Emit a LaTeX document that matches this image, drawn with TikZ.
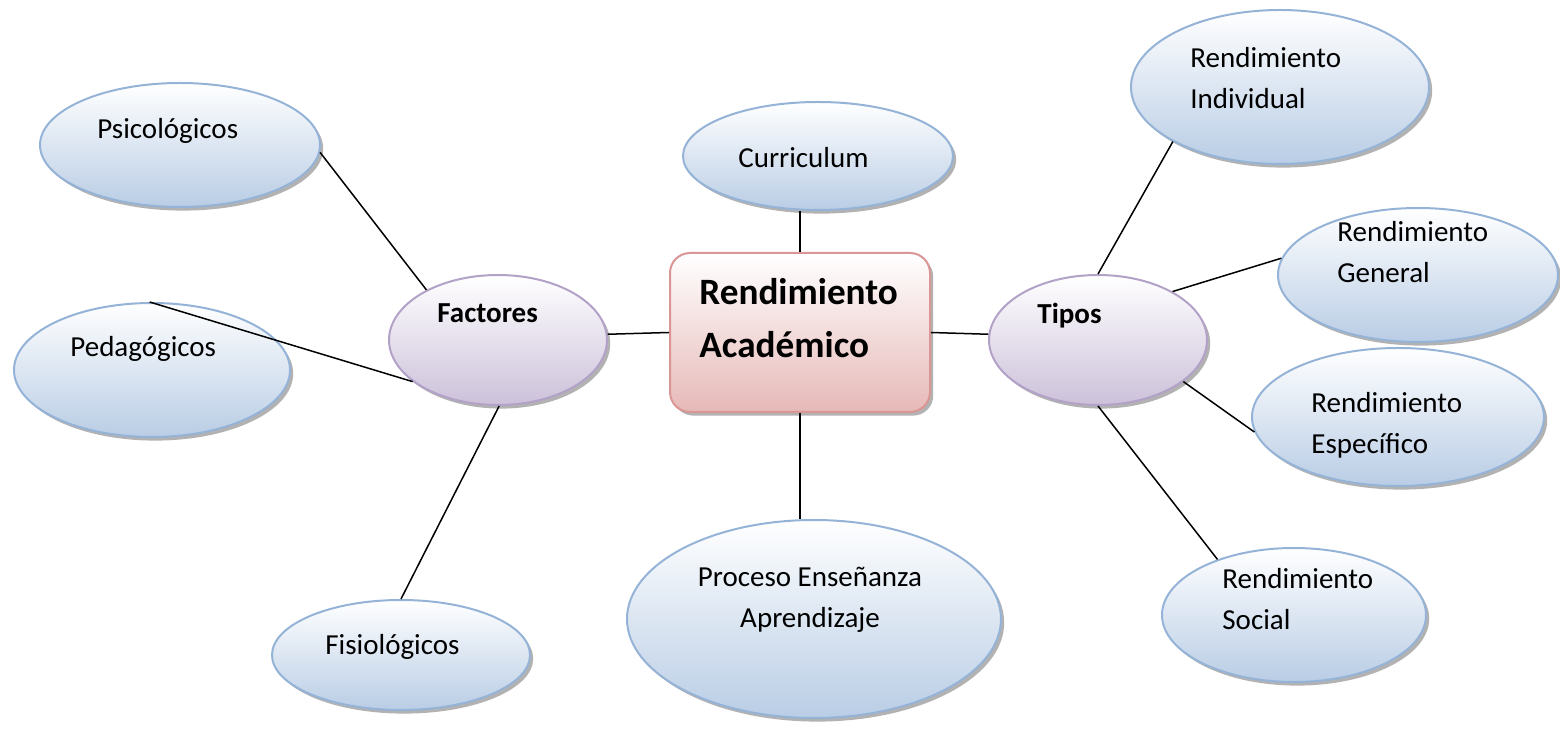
\documentclass[tikz,border=0pt]{standalone}
\usepackage{fontspec}
\setmainfont{Carlito}
\usetikzlibrary{shapes.geometric,shadows}
\definecolor{bluebd}{HTML}{95B3D7}
\definecolor{bluefill}{HTML}{B9CDE5}
\definecolor{purbd}{HTML}{B3A2C7}
\definecolor{purfill}{HTML}{CCC1DA}
\definecolor{pinkbd}{HTML}{D99694}
\definecolor{pinkfill}{HTML}{E6B9B8}
\tikzset{
  shad/.style={drop shadow={shadow xshift=1.6pt, shadow yshift=-1.8pt, fill=black!55, opacity=0.55}},
  blueell/.style={ellipse, inner sep=0pt, draw=bluebd, line width=1pt, top color=white, bottom color=bluefill, shad},
  purell/.style={ellipse, inner sep=0pt, draw=purbd, line width=1pt, top color=white, bottom color=purfill, shad},
  centerbox/.style={rectangle, rounded corners=10pt, inner sep=0pt, draw=pinkbd, line width=1pt, top color=white, bottom color=pinkfill, shad},
  txt/.style={anchor=base west, inner sep=0pt, align=left, font=\fontsize{14.5}{20.5}\selectfont},
  btxt/.style={anchor=base west, inner sep=0pt, align=left, font=\bfseries\fontsize{14.5}{20.5}\selectfont},
  bigtxt/.style={anchor=base west, inner sep=0pt, align=left, font=\bfseries\fontsize{18.6}{26.5}\selectfont},
  conn/.style={draw=black, line width=0.75pt}
}
\begin{document}
\begin{tikzpicture}[x=0.5pt, y=-0.5pt]
\useasboundingbox (0,0) rectangle (1560,732);
% shapes
\node[blueell, minimum width=140pt, minimum height=62pt] (psi) at (180,145) {};
\node[blueell, minimum width=138pt, minimum height=67pt] (ped) at (152,370) {};
\node[blueell, minimum width=129pt, minimum height=55pt] (fis) at (401,655) {};
\node[blueell, minimum width=135pt, minimum height=54pt] (cur) at (818,156) {};
\node[blueell, minimum width=187pt, minimum height=99pt] (pro) at (814,619) {};
\node[blueell, minimum width=149pt, minimum height=77pt] (ind) at (1280,87) {};
\node[blueell, minimum width=140pt, minimum height=67pt] (gen) at (1418,275) {};
\node[blueell, minimum width=146pt, minimum height=69pt] (esp) at (1398,417) {};
\node[blueell, minimum width=132pt, minimum height=67pt] (soc) at (1294,615) {};
\node[purell, minimum width=109pt, minimum height=65pt] (fac) at (498,340) {};
\node[purell, minimum width=109pt, minimum height=65pt] (tip) at (1098,340) {};
\node[centerbox, minimum width=130pt, minimum height=79.5pt] (box) at (800,332.5) {};
% texts (multi-line nodes: base = last line)
\node[txt] (tpsi) at (97,139) {Psicológicos};
\node[txt] (tped) at (70,357) {Pedagógicos};
\node[txt] (tfis) at (325,655) {Fisiológicos};
\node[txt] (tcur) at (738,168) {Curriculum};
\node[txt, align=center, anchor=base] (tpro) at (810,628) {Proceso Enseñanza\\Aprendizaje};
\node[txt] (tind) at (1190,109) {Rendimiento\\Individual};
\node[txt] (tgen) at (1337,283) {Rendimiento\\General};
\node[txt] (tesp) at (1311,454) {Rendimiento\\Específico};
\node[txt] (tsoc) at (1222,630) {Rendimiento\\Social};
\node[btxt] (tfac) at (437,323) {Factores};
\node[btxt] (ttip) at (1037,324) {Tipos};
\node[bigtxt] (tbox) at (699,358) {Rendimiento\\Académico};
% connectors
\draw[conn] (psi.-3) -- (fac.145);
\draw[conn] (ped.92) -- (fac.-154);
\draw[conn] (fis.90) -- (fac.-89);
\draw[conn] (fac.3) -- (box.west);
\draw[conn] (box.east) -- (tip.177);
\draw[conn] (box.north) -- (cur.south -| box.north);
\draw[conn] (box.south) -- (pro.north -| box.south);
\draw[conn] (tip.90) -- (ind.-153);
\draw[conn] (tip.33) -- (gen.173);
\draw[conn] (tip.-26) -- (esp.-174);
\draw[conn] (tip.-90) -- (soc.144);
\end{tikzpicture}
\end{document}
